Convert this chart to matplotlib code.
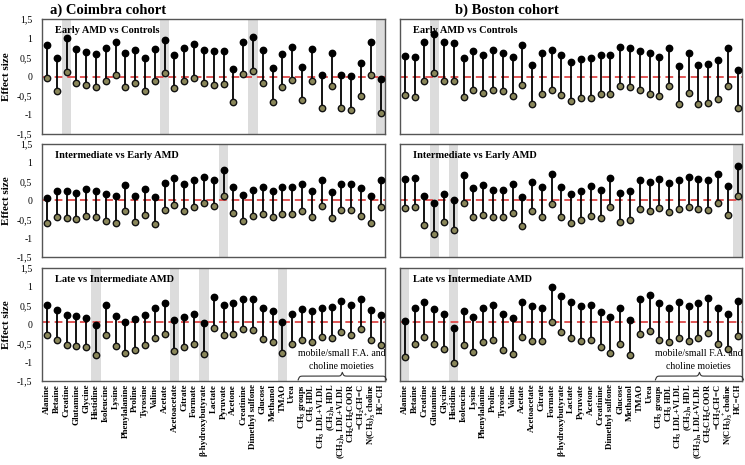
import numpy as np
import matplotlib
matplotlib.use("Agg")
import matplotlib.pyplot as plt

plt.rcParams['font.family'] = ['Liberation Serif', 'DejaVu Serif']

metabolites = ['Alanine', 'Betaine', 'Creatine', 'Glutamine', 'Glycine', 'Histidine',
               'Isoleucine', 'Lysine', 'Phenylalanine', 'Proline', 'Tyrosine', 'Valine',
               'Acetate', 'Acetoacetate', 'Citrate', 'Formate', 'β-hydroxybutyrate',
               'Lactate', 'Pyruvate', 'Acetone', 'Creatinine', 'Dimethyl sulfone',
               'Glucose', 'Methanol', 'TMAO', 'Urea',
               r'CH$\mathregular{_3}$ groups', r'CH$\mathregular{_3}$ HDL',
               r'CH$\mathregular{_3}$ LDL+VLDL', r'(CH$\mathregular{_2}$)$\mathregular{_n}$ HDL',
               r'(CH$\mathregular{_2}$)$\mathregular{_n}$ LDL+VLDL',
               r'CH$\mathregular{_2}$CH$\mathregular{_2}$COOR', r'=CH$\mathregular{_2}$CH=C',
               r'N(CH$\mathregular{_3}$)$\mathregular{_3^+}$choline', 'HC=CH']
n_small = 26  # metabolites before the lipid / choline group

# upper / lower effect size values
coimbra_early_hi = [0.83, 0.47, 1.00, 0.72, 0.63, 0.58, 0.75, 0.89, 0.61, 0.69, 0.47, 0.72,
                    0.94, 0.55, 0.74, 0.86, 0.69, 0.66, 0.66, 0.19, 0.91, 1.03, 0.69, 0.22,
                    0.59, 0.77, 0.25, 0.72, 0.04, 0.61, 0.04, 0.01, 0.36, 0.89, -0.07]
coimbra_early_lo = [-0.05, -0.39, 0.12, -0.16, -0.22, -0.27, -0.11, 0.03, -0.28, -0.16, -0.39,
                    -0.12, 0.09, -0.31, -0.11, -0.03, -0.16, -0.22, -0.19, -0.66, 0.06, 0.15,
                    -0.16, -0.66, -0.27, -0.08, -0.61, -0.13, -0.82, -0.25, -0.82, -0.88,
                    -0.50, 0.03, -0.96]
coimbra_inter_hi = [0.07, 0.25, 0.25, 0.21, 0.31, 0.25, 0.16, 0.11, 0.40, 0.11, 0.31, 0.08,
                    0.46, 0.60, 0.43, 0.54, 0.63, 0.54, 0.80, 0.36, 0.14, 0.28, 0.35, 0.25,
                    0.36, 0.35, 0.43, 0.24, 0.55, 0.23, 0.45, 0.45, 0.33, 0.12, 0.55]
coimbra_inter_lo = [-0.61, -0.45, -0.47, -0.50, -0.40, -0.45, -0.55, -0.60, -0.28, -0.57,
                    -0.39, -0.63, -0.25, -0.11, -0.29, -0.16, -0.06, -0.15, 0.11, -0.32,
                    -0.55, -0.42, -0.35, -0.44, -0.35, -0.35, -0.27, -0.45, -0.15, -0.46,
                    -0.25, -0.25, -0.40, -0.61, -0.17]
coimbra_late_hi = [0.53, 0.39, 0.24, 0.22, 0.18, 0.00, 0.51, 0.22, 0.06, 0.15, 0.26, 0.45,
                   0.56, 0.12, 0.21, 0.28, 0.04, 0.73, 0.51, 0.57, 0.68, 0.67, 0.43, 0.35,
                   0.06, 0.29, 0.41, 0.35, 0.45, 0.46, 0.62, 0.51, 0.67, 0.39, 0.25]
coimbra_late_lo = [-0.28, -0.42, -0.55, -0.58, -0.61, -0.80, -0.29, -0.58, -0.75, -0.67,
                   -0.54, -0.35, -0.25, -0.70, -0.61, -0.51, -0.77, -0.08, -0.28, -0.25,
                   -0.12, -0.15, -0.39, -0.46, -0.75, -0.52, -0.42, -0.47, -0.33, -0.35,
                   -0.19, -0.28, -0.12, -0.42, -0.55]

boston_early_hi = [0.53, 0.51, 0.89, 1.10, 0.89, 0.87, 0.47, 0.67, 0.56, 0.69, 0.62, 0.51,
                   0.81, 0.30, 0.61, 0.69, 0.55, 0.39, 0.45, 0.48, 0.56, 0.56, 0.77, 0.74,
                   0.67, 0.61, 0.51, 0.75, 0.27, 0.61, 0.31, 0.33, 0.42, 0.75, 0.18]
boston_early_lo = [-0.47, -0.54, -0.12, 0.08, -0.12, -0.12, -0.54, -0.36, -0.44, -0.34,
                   -0.39, -0.51, -0.23, -0.71, -0.45, -0.34, -0.47, -0.63, -0.56, -0.56,
                   -0.46, -0.46, -0.25, -0.27, -0.36, -0.46, -0.51, -0.25, -0.72, -0.42,
                   -0.72, -0.70, -0.59, -0.25, -0.82]
boston_inter_hi = [0.57, 0.59, 0.12, -0.06, 0.18, 0.00, 0.69, 0.32, 0.41, 0.28, 0.28, 0.45,
                   0.09, 0.49, 0.35, 0.70, 0.35, 0.18, 0.25, 0.38, 0.29, 0.61, 0.21, 0.25,
                   0.55, 0.48, 0.57, 0.46, 0.55, 0.62, 0.56, 0.54, 0.70, 0.38, 0.91]
boston_inter_lo = [-0.20, -0.18, -0.65, -0.88, -0.58, -0.77, -0.06, -0.45, -0.38, -0.45,
                   -0.45, -0.32, -0.69, -0.29, -0.43, -0.08, -0.44, -0.60, -0.52, -0.41,
                   -0.46, -0.18, -0.58, -0.53, -0.23, -0.29, -0.20, -0.30, -0.23, -0.17,
                   -0.22, -0.24, -0.07, -0.39, 0.12]
boston_late_hi = [0.10, 0.43, 0.59, 0.40, 0.27, -0.08, 0.36, 0.19, 0.45, 0.52, 0.27, 0.16,
                  0.60, 0.48, 0.45, 1.00, 0.75, 0.59, 0.48, 0.52, 0.32, 0.19, 0.43, 0.12,
                  0.67, 0.78, 0.56, 0.45, 0.59, 0.49, 0.57, 0.71, 0.43, 0.28, 0.63]
boston_late_lo = [-0.85, -0.51, -0.33, -0.52, -0.65, -1.01, -0.54, -0.74, -0.46, -0.41,
                  -0.68, -0.77, -0.33, -0.43, -0.43, 0.07, -0.21, -0.36, -0.43, -0.41,
                  -0.61, -0.75, -0.51, -0.82, -0.26, -0.17, -0.40, -0.46, -0.35, -0.43,
                  -0.36, -0.23, -0.51, -0.64, -0.30]

# highlighted (grey band) metabolites per panel
coimbra_early_marked = ['Creatine', 'Acetate', 'Dimethyl sulfone', 'HC=CH']
coimbra_inter_marked = ['Pyruvate']
coimbra_late_marked = ['Histidine', 'Acetoacetate', 'β-hydroxybutyrate', 'TMAO']
boston_early_marked = ['Glutamine']
boston_inter_marked = ['Glutamine', 'Histidine', 'HC=CH']
boston_late_marked = ['Alanine', 'Histidine']

panel_titles = ['Early AMD vs Controls', 'Intermediate vs Early AMD', 'Late vs Intermediate AMD']
ref_lines = [0.0, 0.0, 0.06]
yticks = [1.5, 1, 0.5, 0, -0.5, -1, -1.5]
ytick_labels = ['1,5', '1', '0,5', '0', '-0,5', '-1', '-1,5']


def draw_brace(ax, x0, x1, y0, height):
    # curly brace opening downwards, peak in the middle
    n = 301
    xs = np.linspace(x0, x1, n)
    half = xs[:n // 2 + 1]
    beta = 14.0
    yh = 1 / (1 + np.exp(-beta * (half - half[0]))) + 1 / (1 + np.exp(-beta * (half - half[-1])))
    ys = np.concatenate((yh, yh[-2::-1]))
    ys = y0 + (ys - 0.5) * height
    ax.plot(xs, ys, color='#333333', lw=0.8, clip_on=False, zorder=3)


def draw_panel(ax, hi, lo, marked, title, ref, show_y, show_x):
    x = np.arange(len(metabolites))
    for name in marked:
        i = metabolites.index(name)
        ax.axvspan(i - 0.47, i + 0.47, color='#dcdcdc', lw=0, zorder=0)
    ax.axhline(ref, color='#e05555', ls=(0, (4, 2.5)), lw=1.4, zorder=1)
    ax.vlines(x, lo, hi, color='black', lw=1.3, zorder=2)
    ax.plot(x, hi, 'o', ms=4.6, color='black', zorder=3)
    ax.plot(x, lo, 'o', ms=4.6, mfc='#8a875a', mec='#111111', mew=1.0, zorder=3)
    ax.set_xlim(-0.5, 34.45)
    ax.set_ylim(-1.5, 1.5)
    ax.text(0.038, 0.9, title, transform=ax.transAxes, fontsize=7.5,
            fontweight='bold', va='center', ha='left')
    for s in ax.spines.values():
        s.set_color('#555555')
        s.set_linewidth(1.0)
    ax.tick_params(length=0)
    if show_y:
        ax.set_yticks(yticks)
        ax.set_yticklabels(ytick_labels, fontsize=7)
        ax.tick_params(axis='y', pad=7)
        ax.set_ylabel('Effect size', fontsize=8, fontweight='bold', labelpad=4)
    else:
        ax.set_yticks([])
    if show_x:
        ax.set_xticks(x)
        labels = ax.set_xticklabels(metabolites, rotation=90, fontsize=6.5, fontweight='bold')
        for lab in labels[n_small:]:
            lab.set_fontsize(6.1)
        ax.tick_params(axis='x', pad=2)
        ax.text(30.0, -0.78, 'mobile/small F.A. and', fontsize=7, ha='center', va='center')
        ax.text(30.0, -1.12, 'choline moieties', fontsize=7, ha='center', va='center')
        draw_brace(ax, 25.6, 34.6, -1.47, 0.2)
    else:
        ax.set_xticks([])


fig = plt.figure(figsize=(7.45, 4.65), dpi=100)

lefts = [42 / 745, 400 / 745]
widths = [343 / 745, 342 / 745]
bottoms = [331 / 465, 208 / 465, 84 / 465]
heights = [115 / 465, 113 / 465, 113 / 465]

cohorts = [
    [(coimbra_early_hi, coimbra_early_lo, coimbra_early_marked),
     (coimbra_inter_hi, coimbra_inter_lo, coimbra_inter_marked),
     (coimbra_late_hi, coimbra_late_lo, coimbra_late_marked)],
    [(boston_early_hi, boston_early_lo, boston_early_marked),
     (boston_inter_hi, boston_inter_lo, boston_inter_marked),
     (boston_late_hi, boston_late_lo, boston_late_marked)],
]

for c, panels in enumerate(cohorts):
    for r, (hi, lo, marked) in enumerate(panels):
        ax = fig.add_axes([lefts[c], bottoms[r], widths[c], heights[r]])
        draw_panel(ax, hi, lo, marked, panel_titles[r], ref_lines[r],
                   show_y=(c == 0), show_x=(r == 2))

fig.text(50 / 745, 1 - 10 / 465, 'a) Coimbra cohort', fontsize=10.5, fontweight='bold',
         ha='left', va='center')
fig.text(455 / 745, 1 - 10 / 465, 'b) Boston cohort', fontsize=10.5, fontweight='bold',
         ha='left', va='center')

fig.savefig('out.png', dpi=100)
